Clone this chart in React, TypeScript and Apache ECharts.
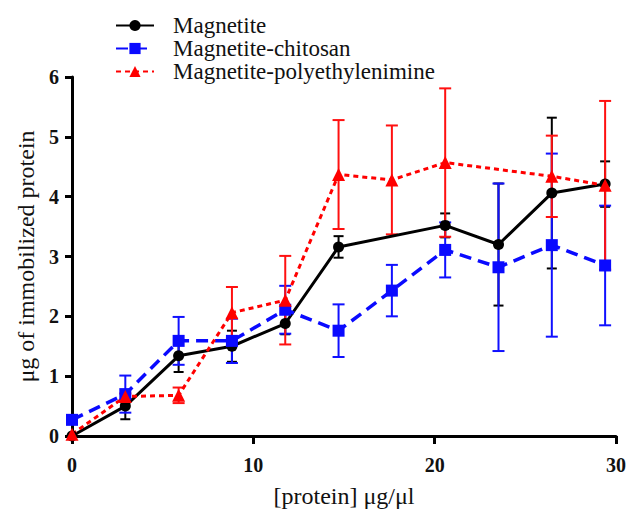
import React, { useEffect, useRef } from "react";
import * as echarts from "echarts";

// ---- data ----
const magnetiteX = [0, 2.94, 5.88, 8.82, 11.76, 14.7, 20.58, 23.52, 26.46, 29.4];
const magnetiteY = [0, 0.5, 1.34, 1.5, 1.88, 3.16, 3.52, 3.2, 4.06, 4.21];
const magnetiteSD = [0, 0.22, 0.27, 0.26, 0.18, 0.18, 0.2, 1.02, 1.26, 0.38];

const chitosanX = [0, 2.94, 5.88, 8.82, 11.76, 14.7, 17.64, 20.58, 23.52, 26.46, 29.4];
const chitosanY = [0.27, 0.7, 1.59, 1.59, 2.11, 1.76, 2.43, 3.11, 2.82, 3.19, 2.85];
const chitosanSD = [0, 0.31, 0.4, 0.37, 0.4, 0.44, 0.43, 0.46, 1.4, 1.53, 1.0];

const peiX = [0, 2.94, 5.88, 8.82, 11.76, 14.7, 17.64, 20.58, 26.46, 29.4];
const peiY = [0.03, 0.66, 0.68, 2.06, 2.27, 4.37, 4.28, 4.57, 4.34, 4.19];
const peiSD = [0, 0.05, 0.13, 0.43, 0.74, 0.91, 0.91, 1.24, 0.68, 1.41];

const seriesNames = ["Magnetite", "Magnetite-chitosan", "Magnetite-polyethylenimine"];
const xTicks = { min: 0, max: 30, interval: 10 };
const yTicks = { min: 0, max: 6, interval: 1 };

const FONT = "Liberation Serif";

function pts(xs: number[], ys: number[]) {
  return xs.map((x, i) => [x, ys[i]]);
}
function errs(xs: number[], ys: number[], sd: number[]) {
  return xs.map((x, i) => [x, ys[i] - sd[i], ys[i] + sd[i]]);
}

function errSeries(name: string, data: number[][], color: string, cap: number) {
  return {
    name,
    type: "custom",
    data,
    encode: { x: 0, y: [1, 2] },
    silent: true,
    clip: false,
    renderItem: (params: any, api: any) => {
      const x = api.value(0);
      const lo = api.value(1);
      const hi = api.value(2);
      if (hi - lo < 1e-9) return { type: "group", children: [] };
      const a = api.coord([x, lo]);
      const b = api.coord([x, hi]);
      const style = { stroke: color, lineWidth: 2 };
      return {
        type: "group",
        children: [
          { type: "line", shape: { x1: a[0], y1: a[1], x2: b[0], y2: b[1] }, style },
          { type: "line", shape: { x1: b[0] - cap, y1: b[1], x2: b[0] + cap, y2: b[1] }, style },
          { type: "line", shape: { x1: a[0] - cap, y1: a[1], x2: a[0] + cap, y2: a[1] }, style },
        ],
      };
    },
  };
}

export default function App() {
  const ref = useRef<HTMLDivElement>(null);
  useEffect(() => {
    if (!ref.current) return;
    const chart = echarts.init(ref.current, undefined, { renderer: "svg" });
    const option: any = {
      animation: false,
      backgroundColor: "#ffffff",
      textStyle: { fontFamily: FONT },
      grid: { left: 72, right: 14, top: 77, bottom: 80, containLabel: false },
      legend: {
        data: seriesNames,
        orient: "vertical",
        left: 110,
        top: 9,
        itemWidth: 38,
        itemHeight: 14,
        itemGap: 0,
        textStyle: {
          fontFamily: FONT,
          fontSize: 23,
          color: "#111",
          lineHeight: 22.5,
          padding: [0, 0, 0, 14],
        },
      },
      xAxis: {
        type: "value",
        min: xTicks.min,
        max: xTicks.max,
        interval: xTicks.interval,
        name: "[protein] \u03bcg/\u03bcl",
        nameLocation: "middle",
        nameGap: 48,
        nameTextStyle: { fontFamily: FONT, fontSize: 24, color: "#111" },
        axisLine: { show: true, onZero: false, lineStyle: { color: "#000", width: 3 } },
        axisTick: { show: true, length: 8, lineStyle: { color: "#000", width: 3 } },
        axisLabel: { fontFamily: FONT, fontSize: 20, fontWeight: "bold", color: "#111", margin: 19 },
        splitLine: { show: false },
      },
      yAxis: {
        type: "value",
        min: yTicks.min,
        max: yTicks.max,
        interval: yTicks.interval,
        name: "\u03bcg of immobilized protein",
        nameLocation: "middle",
        nameRotate: 90,
        nameGap: 30,
        nameTextStyle: { fontFamily: FONT, fontSize: 24, color: "#111" },
        axisLine: { show: true, lineStyle: { color: "#000", width: 3 } },
        axisTick: { show: true, length: 7, lineStyle: { color: "#000", width: 3 } },
        axisLabel: { fontFamily: FONT, fontSize: 20, fontWeight: "bold", color: "#111", margin: 13 },
        splitLine: { show: false },
      },
      series: [
        errSeries("Magnetite err", errs(magnetiteX, magnetiteY, magnetiteSD), "#000000", 5),
        {
          name: seriesNames[0],
          type: "line",
          data: pts(magnetiteX, magnetiteY),
          symbol: "circle",
          symbolSize: 11,
          clip: false,
          lineStyle: { color: "#000000", width: 3, type: "solid" },
          itemStyle: { color: "#000000" },
        },
        errSeries("Chitosan err", errs(chitosanX, chitosanY, chitosanSD), "#1010ff", 6),
        {
          name: seriesNames[1],
          type: "line",
          data: pts(chitosanX, chitosanY),
          symbol: "rect",
          symbolSize: 12,
          clip: false,
          lineStyle: { color: "#0a0aff", width: 3.5, type: [12, 7] },
          itemStyle: { color: "#0a0aff" },
        },
        errSeries("PEI err", errs(peiX, peiY, peiSD), "#ff1010", 6),
        {
          name: seriesNames[2],
          type: "line",
          data: pts(peiX, peiY),
          symbol: "triangle",
          symbolSize: 13,
          clip: false,
          lineStyle: { color: "#ff0000", width: 3, type: [5, 4] },
          itemStyle: { color: "#ff0000" },
        },
      ],
    };
    chart.setOption(option);
    return () => chart.dispose();
  }, []);
  return (
    <div
      ref={ref}
      style={{ position: "fixed", left: 0, top: 0, width: 630, height: 516, background: "#fff" }}
    />
  );
}
